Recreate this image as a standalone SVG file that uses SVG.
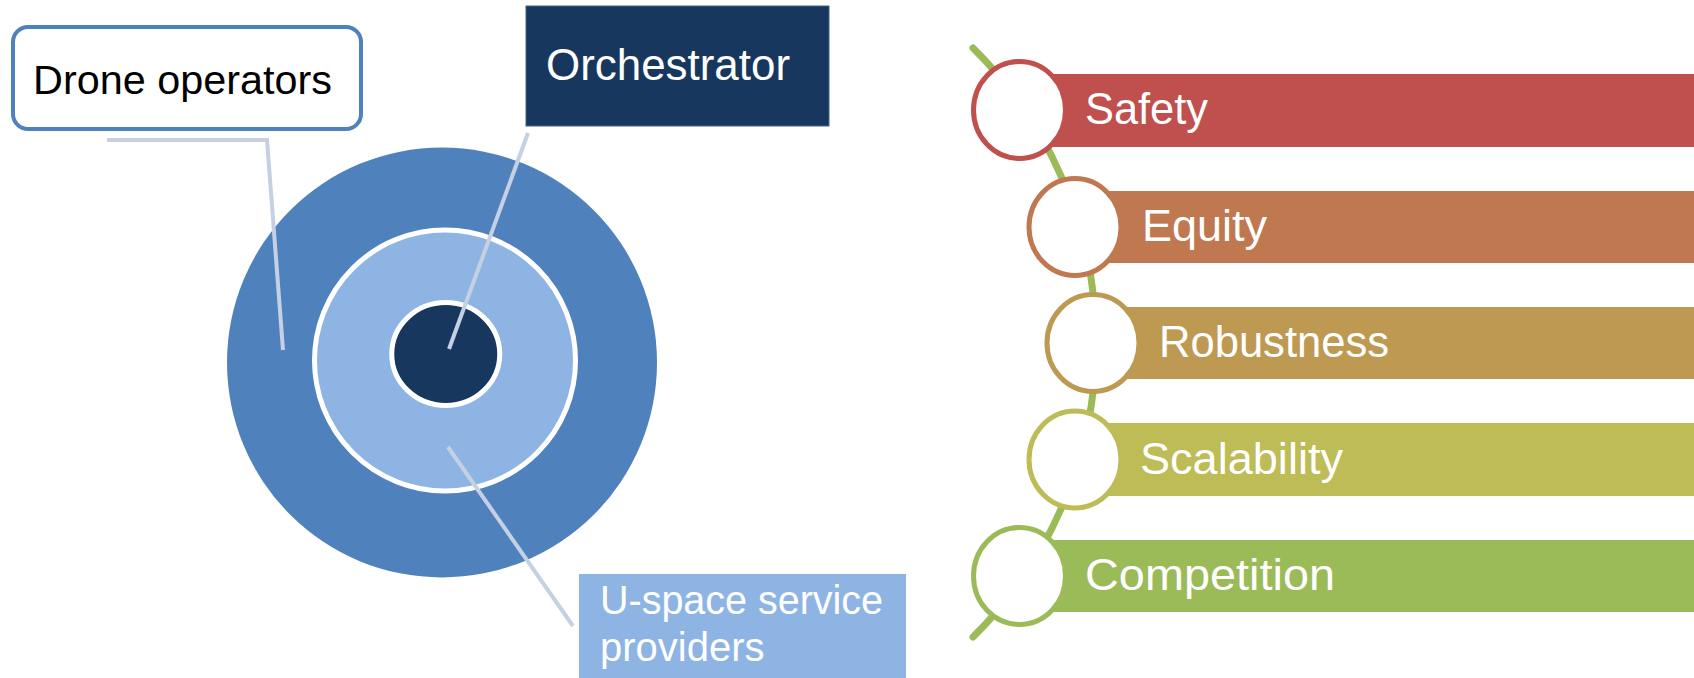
<svg xmlns="http://www.w3.org/2000/svg" width="1694" height="678" viewBox="0 0 1694 678">
<style>
  .lbl { font-family: "Liberation Sans", Arial, sans-serif; }
  .lead { stroke: #C5D0E3; stroke-width: 4; fill: none; }
  .bartxt { font-family: "Liberation Sans", Arial, sans-serif; font-size: 44px; fill: #FFFFFF; }
  .ring { fill: #FFFFFF; stroke-width: 5; }
</style>
<rect x="0" y="0" width="1694" height="678" fill="#FFFFFF"/>

<g id="target">
  <circle cx="442" cy="362.5" r="215" fill="#4F81BD"/>
  <circle cx="445" cy="360.5" r="130.5" fill="#8EB4E3" stroke="#FFFFFF" stroke-width="5"/>
  <ellipse cx="445.75" cy="354" rx="54" ry="51.5" fill="#17375E" stroke="#FFFFFF" stroke-width="5"/>
</g>

<g id="connectors">
  <polyline class="lead" points="107,140 267,140 283,350"/>
  <line class="lead" x1="528" y1="133" x2="449" y2="349"/>
  <line class="lead" x1="448" y1="447" x2="573" y2="626"/>
  <path d="M 973 48 A 414 414 0 0 1 973 637" fill="none" stroke="#9BBB59" stroke-width="7" stroke-linecap="round"/>
</g>

<g id="drone-operators">
  <rect x="13" y="27" width="348" height="102" rx="15" ry="15" fill="#FFFFFF" stroke="#4F81BD" stroke-width="4"/>
  <text class="lbl" x="33" y="94" font-size="40" fill="#000000" textLength="299" lengthAdjust="spacingAndGlyphs">Drone operators</text>
</g>

<g id="orchestrator">
  <rect x="526" y="6" width="303" height="120" fill="#17375E" stroke="#4A6283" stroke-width="1"/>
  <text class="lbl" x="546" y="80" font-size="44" fill="#FFFFFF" textLength="244" lengthAdjust="spacingAndGlyphs">Orchestrator</text>
</g>

<g id="uspace-providers">
  <rect x="579" y="574" width="327" height="110" fill="#8EB4E3"/>
  <text class="lbl" x="600" y="614" font-size="40" fill="#FFFFFF" textLength="283" lengthAdjust="spacingAndGlyphs">U-space service</text>
  <text class="lbl" x="600" y="661" font-size="40" fill="#FFFFFF">providers</text>
</g>

<g id="safety">
  <rect x="1019.5" y="74" width="674.5" height="73" fill="#C0504D"/>
  <ellipse class="ring" cx="1019.5" cy="110" rx="46" ry="48.5" stroke="#C0504D"/>
  <text class="bartxt" x="1085" y="124" textLength="123" lengthAdjust="spacingAndGlyphs">Safety</text>
</g>

<g id="equity">
  <rect x="1075" y="191" width="619" height="72" fill="#BF7850"/>
  <ellipse class="ring" cx="1075" cy="227" rx="46" ry="48.5" stroke="#BF7850"/>
  <text class="bartxt" x="1142" y="241" textLength="125" lengthAdjust="spacingAndGlyphs">Equity</text>
</g>

<g id="robustness">
  <rect x="1093" y="307" width="601" height="72" fill="#BE9952"/>
  <ellipse class="ring" cx="1093" cy="343" rx="46" ry="48.5" stroke="#BE9952"/>
  <text class="bartxt" x="1159" y="357" textLength="230" lengthAdjust="spacingAndGlyphs">Robustness</text>
</g>

<g id="scalability">
  <rect x="1075" y="423" width="619" height="73" fill="#BDBC57"/>
  <ellipse class="ring" cx="1075" cy="459.5" rx="46" ry="48.5" stroke="#BDBC57"/>
  <text class="bartxt" x="1140" y="474" textLength="203" lengthAdjust="spacingAndGlyphs">Scalability</text>
</g>

<g id="competition">
  <rect x="1019.5" y="540" width="674.5" height="72" fill="#9BBB59"/>
  <ellipse class="ring" cx="1019.5" cy="576" rx="46" ry="48.5" stroke="#9BBB59"/>
  <text class="bartxt" x="1085" y="590" textLength="250" lengthAdjust="spacingAndGlyphs">Competition</text>
</g>
</svg>
